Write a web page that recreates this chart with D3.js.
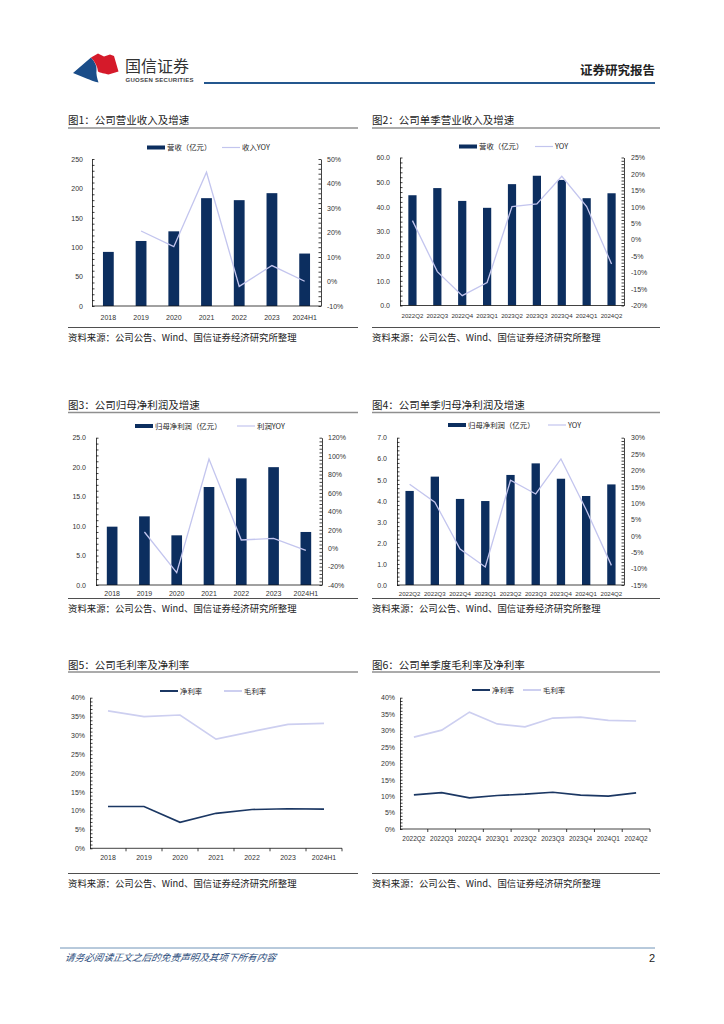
<!DOCTYPE html>
<html lang="zh">
<head>
<meta charset="utf-8">
<title>国信证券 图表</title>
<script src="https://d3js.org/d3.v7.min.js"></script>
<style>
  body { margin: 0; background: #fff; }
  text { font-family: "Liberation Sans", "Noto Sans CJK SC", sans-serif; }
  .cn { font-family: "Noto Sans CJK SC", sans-serif; }
  .tick text { font-family: "Liberation Sans", sans-serif; font-size: 7px; fill: #333; }
</style>
</head>
<body>
<script>
// ---- data ----
var years = ['2018', '2019', '2020', '2021', '2022', '2023', '2024H1'];
var quarters = ['2022Q2', '2022Q3', '2022Q4', '2023Q1', '2023Q2', '2023Q3', '2023Q4', '2024Q1', '2024Q2'];

var revenue = [92.0, 110.6, 127.0, 183.4, 180.0, 191.9, 89.2];            // 亿元
var revenueYoy = [null, 20.6, 14.2, 44.6, -2.0, 6.5, 0.1];                // %
var qRevenue = [44.7, 47.6, 42.4, 39.6, 49.2, 52.6, 50.9, 43.5, 45.5];
var qRevenueYoy = [5.8, -9.7, -17.0, -13.0, 10.1, 10.9, 19.3, 10.1, -7.4];

var netProfit = [9.9, 11.65, 8.43, 16.63, 18.1, 20.0, 9.0];
var netProfitYoy = [null, 17.6, -26.6, 96.8, 8.9, 10.7, -2.4];
var qNetProfit = [4.47, 5.15, 4.09, 3.99, 5.23, 5.78, 5.05, 4.23, 4.78];
var qNetProfitYoy = [15.8, 10.3, -4.0, -9.5, 17.0, 12.8, 23.5, 8.0, -9.0];

var grossMargin = [36.5, 35.0, 35.4, 29.0, 31.0, 32.9, 33.2];
var netMargin = [11.1, 11.1, 6.9, 9.3, 10.3, 10.5, 10.4];
var qGrossMargin = [28.0, 30.1, 35.6, 32.0, 31.1, 33.8, 34.1, 33.1, 32.9];
var qNetMargin = [10.4, 11.1, 9.5, 10.2, 10.6, 11.2, 10.3, 10.0, 11.0];

var sourceText = '资料来源：公司公告、Wind、国信证券经济研究所整理';

var barColor = '#0c2e5f';
var yoyColor = '#c3c5ee';
var netColor = '#1b3763';
var grossColor = '#cdcff0';

var W = 724, H = 1024;
var svg = d3.select('body').append('svg')
            .attr('width', W)
            .attr('height', H);
svg.append('rect').attr('width', W).attr('height', H).attr('fill', '#fff');

// ---- header ----
svg.append('path')
   .attr('d', 'M73,73 L91,57.5 C95,62 97,66 96.5,70 C96,74 97,78 98.5,82.5 C94,81.5 90,80 86.5,78.5 Z')
   .attr('fill', '#1a4d89');
svg.append('path')
   .attr('d', 'M91,57.5 L98,53.5 L104,56.5 L110,54.5 L114,56 L118.5,71.5 L108.5,74.5 C105,73.5 100,73 98,71.5 C97.5,66 95,62 91,57.5 Z')
   .attr('fill', '#d51a2a');
svg.append('text').attr('class', 'cn')
   .attr('x', 125).attr('y', 71.5)
   .attr('font-size', 16).attr('fill', '#333')
   .text('国信证券');
svg.append('text')
   .attr('x', 125.5).attr('y', 82)
   .attr('font-size', 6).attr('font-weight', 'bold').attr('fill', '#444')
   .attr('textLength', 68)
   .text('GUOSEN SECURITIES');
svg.append('text').attr('class', 'cn')
   .attr('x', 655).attr('y', 74.5)
   .attr('text-anchor', 'end')
   .attr('font-size', 12.5).attr('font-weight', 'bold').attr('fill', '#222')
   .text('证券研究报告');
svg.append('line')
   .attr('x1', 204).attr('x2', 655).attr('y1', 83).attr('y2', 83)
   .attr('stroke', '#24578e').attr('stroke-width', 2);

// ---- footer ----
svg.append('line')
   .attr('x1', 60).attr('x2', 655).attr('y1', 948).attr('y2', 948)
   .attr('stroke', '#4b79a6').attr('stroke-width', 0.8);
svg.append('text').attr('class', 'cn')
   .attr('x', 65).attr('y', 961)
   .attr('font-size', 9.6).attr('font-style', 'italic').attr('fill', '#2d4d7c')
   .attr('transform', 'skewX(-10) translate(169,0)')
   .text('请务必阅读正文之后的免责声明及其项下所有内容');
svg.append('text')
   .attr('x', 655).attr('y', 962)
   .attr('text-anchor', 'end')
   .attr('font-size', 11).attr('fill', '#222')
   .text('2');

function drawTitle(x, x2, y, ruleY, label) {
    svg.append('text').attr('class', 'cn')
       .attr('x', x).attr('y', y)
       .attr('font-size', 10.5).attr('fill', '#222')
       .text(label);
    svg.append('line')
       .attr('x1', x).attr('x2', x2).attr('y1', ruleY).attr('y2', ruleY)
       .attr('stroke', '#8f8f8f').attr('stroke-width', 1.6);
}

function drawSource(x, x2, lineY) {
    svg.append('line')
       .attr('x1', x).attr('x2', x2).attr('y1', lineY).attr('y2', lineY)
       .attr('stroke', '#222').attr('stroke-width', 0.8);
    svg.append('text').attr('class', 'cn')
       .attr('x', x).attr('y', lineY + 13)
       .attr('font-size', 9.4).attr('fill', '#222')
       .text(sourceText);
}

function legendItem(x, y, kind, color, label) {
    if (kind === 'bar') {
        svg.append('rect').attr('x', x).attr('y', y - 2).attr('width', 18).attr('height', 4).attr('fill', color);
    } else {
        svg.append('line').attr('x1', x).attr('x2', x + 18).attr('y1', y).attr('y2', y)
           .attr('stroke', color).attr('stroke-width', kind === 'thick' ? 2 : 1.2);
    }
    svg.append('text').attr('class', 'cn')
       .attr('x', x + 20).attr('y', y + 2.6)
       .attr('font-size', 7.4).attr('fill', '#222')
       .text(label);
}

// y axis with major labels and 5 minor ticks per step, ticks pointing into the plot
function yAxis(scale, xPos, side, domain, step, fmt, pad) {
    var minor = d3.range(domain[0], domain[1] + step / 10, step / 5);
    var major = d3.range(domain[0], domain[1] + step / 10, step);
    var inner = side === 'left' ? d3.axisRight(scale) : d3.axisLeft(scale);
    svg.append('g')
       .attr('transform', 'translate(' + xPos + ',0)')
       .call(inner.tickValues(minor).tickSize(2.5).tickSizeOuter(0).tickFormat(''))
       .call(function(g) { g.selectAll('line, path').attr('stroke', '#111').attr('stroke-width', 0.8); });
    var lab = side === 'left' ? d3.axisLeft(scale) : d3.axisRight(scale);
    svg.append('g')
       .attr('transform', 'translate(' + xPos + ',0)')
       .call(lab.tickValues(major).tickSize(0).tickPadding(pad).tickFormat(fmt))
       .call(function(g) { g.select('.domain').remove(); });
}

function comboChart(c) {
    var x = d3.scaleBand().domain(c.cats).range([c.x0, c.x1]).paddingInner(0.67).paddingOuter(0.335);
    var yL = d3.scaleLinear().domain(c.leftDomain).range([c.yBot, c.yTop]);
    var yR = d3.scaleLinear().domain(c.rightDomain).range([c.yBot, c.yTop]);
    var rows = c.cats.map(function(k, i) { return {k: k, v: c.bars[i], r: c.yoy[i]}; });

    svg.append('g').selectAll('rect')
       .data(rows).enter().append('rect')
       .attr('x', function(d) { return x(d.k); })
       .attr('width', x.bandwidth())
       .attr('y', function(d) { return yL(d.v); })
       .attr('height', function(d) { return yL(0) - yL(d.v); })
       .attr('fill', barColor);

    var line = d3.line()
                 .defined(function(d) { return d.r != null; })
                 .x(function(d) { return x(d.k) + x.bandwidth() / 2; })
                 .y(function(d) { return yR(d.r); });
    svg.append('path')
       .attr('d', line(rows))
       .attr('fill', 'none').attr('stroke', yoyColor).attr('stroke-width', 1.3);

    // baseline
    svg.append('line')
       .attr('x1', c.x0).attr('x2', c.x1).attr('y1', c.yBot).attr('y2', c.yBot)
       .attr('stroke', '#111').attr('stroke-width', 0.8);
    yAxis(yL, c.x0, 'left', c.leftDomain, c.leftStep, c.leftFmt, c.lpad);
    yAxis(yR, c.x1, 'right', c.rightDomain, c.rightStep, function(d) { return d + '%'; }, c.rpad);

    svg.append('g').selectAll('text')
       .data(c.cats).enter().append('text')
       .attr('x', function(d) { return x(d) + x.bandwidth() / 2; })
       .attr('y', c.xLabelY)
       .attr('text-anchor', 'middle')
       .attr('font-size', c.xFont).attr('fill', '#333')
       .text(function(d) { return d; });

    legendItem(c.leg[0], c.legY, 'bar', barColor, c.legText[0]);
    legendItem(c.leg[1], c.legY, 'line', yoyColor, c.legText[1]);
}

function marginChart(c) {
    var x = d3.scaleBand().domain(c.cats).range([c.x0, c.x1]).padding(0);
    var y = d3.scaleLinear().domain([0, 40]).range([c.yBot, c.yTop]);
    var cx = function(k) { return x(k) + x.bandwidth() / 2; };

    var series = [
        {vals: c.gross, color: grossColor},
        {vals: c.net, color: netColor}
    ];
    series.forEach(function(s) {
        var line = d3.line()
                     .x(function(d, i) { return cx(c.cats[i]); })
                     .y(function(d) { return y(d); });
        svg.append('path')
           .attr('d', line(s.vals))
           .attr('fill', 'none').attr('stroke', s.color).attr('stroke-width', 1.7);
    });

    // x axis with ticks on category boundaries
    svg.append('line')
       .attr('x1', c.x0).attr('x2', c.x1).attr('y1', c.yBot).attr('y2', c.yBot)
       .attr('stroke', '#111').attr('stroke-width', 0.8);
    svg.append('g').selectAll('line')
       .data(c.cats).enter().append('line')
       .attr('x1', function(d) { return x(d) + x.step(); })
       .attr('x2', function(d) { return x(d) + x.step(); })
       .attr('y1', c.yBot).attr('y2', c.yBot + 3)
       .attr('stroke', '#111').attr('stroke-width', 0.8);
    yAxis(y, c.x0, 'left', [0, 40], 5, function(d) { return d + '%'; }, 5);

    svg.append('g').selectAll('text')
       .data(c.cats).enter().append('text')
       .attr('x', function(d) { return cx(d); })
       .attr('y', c.xLabelY)
       .attr('text-anchor', 'middle')
       .attr('font-size', c.xFont).attr('fill', '#333')
       .text(function(d) { return d; });

    legendItem(c.leg[0], c.legY, 'thick', netColor, '净利率');
    legendItem(c.leg[1], c.legY, 'thick', grossColor, '毛利率');
}

// ---- 图1 ----
drawTitle(68, 358, 123.5, 128, '图1：公司营业收入及增速');
comboChart({
    cats: years, bars: revenue, yoy: revenueYoy,
    x0: 92, x1: 321, yTop: 159, yBot: 306, xLabelY: 319.5, xFont: 7,
    leftDomain: [0, 250], leftStep: 50, leftFmt: d3.format('d'), lpad: 9,
    rightDomain: [-10, 50], rightStep: 10, rpad: 6,
    legY: 147.5, leg: [147, 222], legText: ['营收（亿元）', '收入YOY']
});
drawSource(68, 358, 327.5);

// ---- 图2 ----
drawTitle(372, 660, 123.5, 128, '图2：公司单季营业收入及增速');
comboChart({
    cats: quarters, bars: qRevenue, yoy: qRevenueYoy,
    x0: 400, x1: 624, yTop: 157.5, yBot: 305.5, xLabelY: 317.5, xFont: 6.1,
    leftDomain: [0, 60], leftStep: 10, leftFmt: d3.format('.1f'), lpad: 10,
    rightDomain: [-20, 25], rightStep: 5, rpad: 7,
    legY: 146.5, leg: [459, 535], legText: ['营收（亿元）', 'YOY']
});
drawSource(372, 660, 327.5);

// ---- 图3 ----
drawTitle(68, 358, 409, 412.5, '图3：公司归母净利润及增速');
comboChart({
    cats: years, bars: netProfit, yoy: netProfitYoy,
    x0: 96, x1: 322, yTop: 437.7, yBot: 585, xLabelY: 595.5, xFont: 7,
    leftDomain: [0, 25], leftStep: 5, leftFmt: d3.format('.1f'), lpad: 10,
    rightDomain: [-40, 120], rightStep: 20, rpad: 6,
    legY: 426, leg: [135, 237], legText: ['归母净利润（亿元）', '利润YOY']
});
drawSource(68, 358, 598.5);

// ---- 图4 ----
drawTitle(372, 660, 409, 412.5, '图4：公司单季归母净利润及增速');
comboChart({
    cats: quarters, bars: qNetProfit, yoy: qNetProfitYoy,
    x0: 397, x1: 624, yTop: 437.7, yBot: 585, xLabelY: 595.5, xFont: 6.1,
    leftDomain: [0, 7], leftStep: 1, leftFmt: d3.format('.1f'), lpad: 10,
    rightDomain: [-15, 30], rightStep: 5, rpad: 7,
    legY: 425, leg: [448, 548], legText: ['归母净利润（亿元）', 'YOY']
});
drawSource(372, 660, 598.5);

// ---- 图5 ----
drawTitle(68, 358, 668.5, 672, '图5：公司毛利率及净利率');
marginChart({
    cats: years, gross: grossMargin, net: netMargin,
    x0: 90, x1: 342, yTop: 697.7, yBot: 848.3, xLabelY: 860, xFont: 7,
    legY: 691, leg: [160, 224]
});
drawSource(68, 358, 873.5);

// ---- 图6 ----
drawTitle(372, 660, 668.5, 672, '图6：公司单季度毛利率及净利率');
marginChart({
    cats: quarters, gross: qGrossMargin, net: qNetMargin,
    x0: 400, x1: 650, yTop: 697.7, yBot: 829, xLabelY: 841, xFont: 6.5,
    legY: 690, leg: [472, 523]
});
drawSource(372, 660, 873.5);
</script>
</body>
</html>
